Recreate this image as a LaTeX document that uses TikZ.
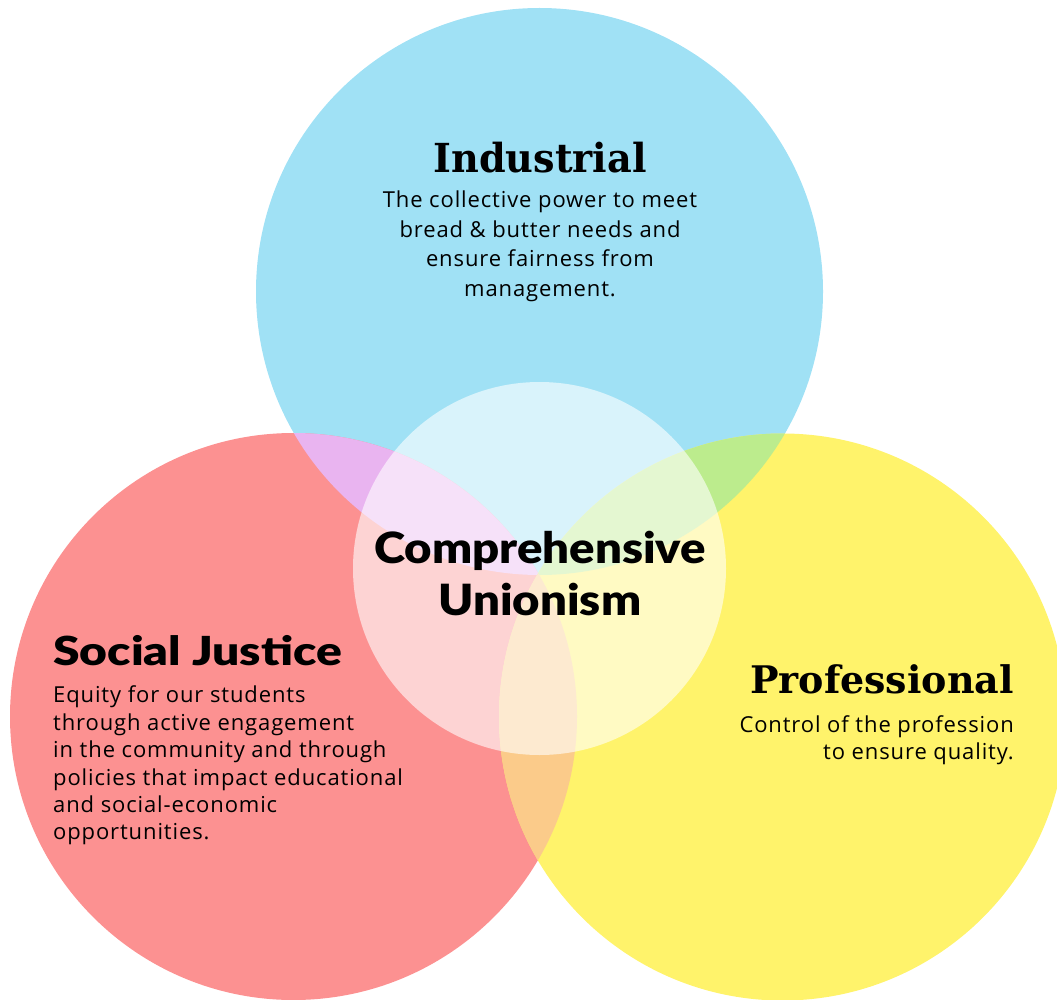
\documentclass[tikz,border=0pt]{standalone}
\usepackage{fontspec}
\setmainfont{Open Sans}[LetterSpace=4]
\newfontfamily\headfont{Lato Black}
\newfontfamily\slabfont{DejaVu Serif}[BoldFont={DejaVu Serif Bold}]
\definecolor{cblue}{HTML}{A0E1F5}
\definecolor{cred}{HTML}{FC9191}
\definecolor{cyel}{HTML}{FFF36B}
\definecolor{cbr}{HTML}{E9B4F0}
\definecolor{cby}{HTML}{BCEC8D}
\definecolor{cry}{HTML}{FBCB8A}
\tikzset{
  body/.style={inner sep=0pt, font=\fontsize{22}{26}\selectfont, text=black},
  slabhead/.style={inner sep=0pt, font=\fontsize{40}{44}\slabfont\bfseries, text=black},
  sanshead/.style={inner sep=0pt, font=\fontsize{40}{44}\headfont, text=black},
}
\begin{document}
\begin{tikzpicture}[x=1pt,y=-1pt]
\useasboundingbox (0,0) rectangle (1057,1000);
\def\R{283.5}
\coordinate (cb) at (539.5,291.5);
\coordinate (cr) at (293.5,716.5);
\coordinate (cy) at (782.5,717);
\coordinate (cc) at (539.5,568.5);
\fill[cblue] (cb) circle (\R);
\fill[cred] (cr) circle (\R);
\fill[cyel] (cy) circle (\R);
\begin{scope}
  \clip (cb) circle (\R);
  \fill[cbr] (cr) circle (\R);
  \fill[cby] (cy) circle (\R);
\end{scope}
\begin{scope}
  \clip (cr) circle (\R);
  \fill[cry] (cy) circle (\R);
\end{scope}
\fill[white, opacity=0.6] (cc) circle (186.5);

% Industrial
\node[slabhead, anchor=base] (indh) at (540,173) {\scalebox{0.955}[1]{Industrial}};
\node[body, anchor=base] (ind1) at (540,208) {The collective power to meet};
\node[body, anchor=base] (ind2) at (540,237.3) {bread \& butter needs and};
\node[body, anchor=base] (ind3) at (540,266.6) {ensure fairness from};
\node[body, anchor=base] (ind4) at (540,296) {management.};

% Comprehensive Unionism
\node[sanshead, font=\fontsize{43}{44}\headfont, anchor=base] (cu1) at (540,563) {\scalebox{1.1}[1]{Comprehensive}};
\node[sanshead, font=\fontsize{43}{44}\headfont, anchor=base] (cu2) at (540,615) {\scalebox{1.1}[1]{Unionism}};

% Social Justice
\node[sanshead, font=\fontsize{40}{44}\headfont, anchor=base west] (sjh) at (53,665) {\scalebox{1.2}[1]{Social Justice}};
\node[body, anchor=base west] (sj1) at (53,702.7) {Equity for our students};
\node[body, anchor=base west] (sj2) at (53,730) {through active engagement};
\node[body, anchor=base west] (sj3) at (53,757.5) {in the community and through};
\node[body, anchor=base west] (sj4) at (53,785) {policies that impact educational};
\node[body, anchor=base west] (sj5) at (53,812.5) {and social-economic};
\node[body, anchor=base west] (sj6) at (53,839.5) {opportunities.};

% Professional
\node[slabhead, font=\fontsize{38}{44}\slabfont\bfseries, anchor=base east] (proh) at (1014,693) {Professional};
\node[body, anchor=base east] (pro1) at (1014,732) {Control of the profession};
\node[body, anchor=base east] (pro2) at (1014,759) {to ensure quality.};
\end{tikzpicture}
\end{document}
